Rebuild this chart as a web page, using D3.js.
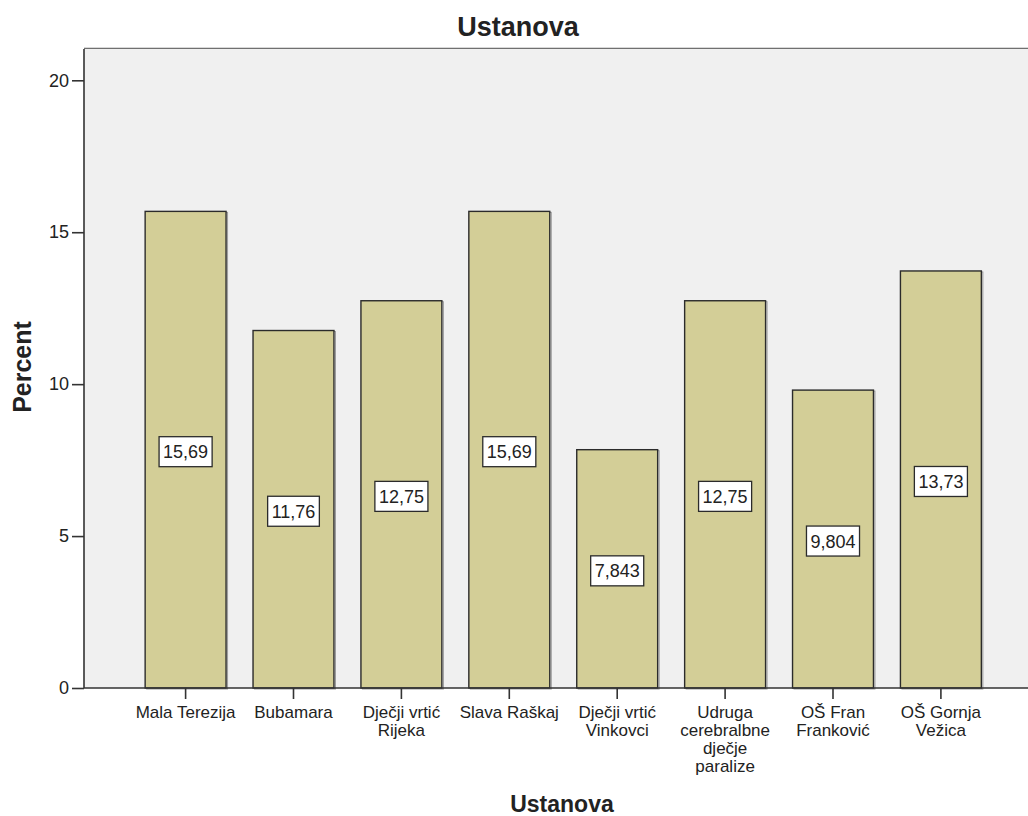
<!DOCTYPE html>
<html>
<head>
<meta charset="utf-8">
<script src="https://cdn.jsdelivr.net/npm/d3@7"></script>
<style>
  html, body { margin: 0; padding: 0; background: #fff; }
  svg { display: block; }
  text { font-family: "Liberation Sans", Arial, sans-serif; fill: #222; }
</style>
</head>
<body>
<svg id="chart" width="1028" height="816"></svg>
<script>
const categories = ["Mala Terezija", "Bubamara", "Dječji vrtić Rijeka", "Slava Raškaj", "Dječji vrtić Vinkovci", "Udruga cerebralbne dječje paralize", "OŠ Fran Franković", "OŠ Gornja Vežica"];
const percents = [15.686, 11.765, 12.745, 15.686, 7.843, 12.745, 9.804, 13.725];
const valueLabels = ["15,69", "11,76", "12,75", "15,69", "7,843", "12,75", "9,804", "13,73"];
const yTicks = [0, 5, 10, 15, 20];
const chartTitle = "Ustanova";
const xTitle = "Ustanova";
const yTitle = "Percent";

const svg = d3.select("#chart");
const plot = { left: 84, top: 49, right: 1030, bottom: 688 };

const y = d3.scaleLinear().domain([0, 21.03]).range([plot.bottom, plot.top]);
const step = 107.9;
const x = d3.scaleBand()
  .domain(categories)
  .range([185.6 - step / 2, 185.6 + step * 7.5])
  .paddingInner(0.25)
  .paddingOuter(0.125);

// plot background
svg.append("rect")
  .attr("x", plot.left).attr("y", plot.top)
  .attr("width", plot.right - plot.left).attr("height", plot.bottom - plot.top)
  .attr("fill", "#f0f0f0");
// top frame
svg.append("line").attr("x1", plot.left).attr("x2", plot.right)
  .attr("y1", plot.top - 1.5).attr("y2", plot.top - 1.5)
  .attr("stroke", "#d8d8d8").attr("stroke-width", 1);
svg.append("line").attr("x1", plot.left).attr("x2", plot.right)
  .attr("y1", plot.top - 0.5).attr("y2", plot.top - 0.5)
  .attr("stroke", "#707070").attr("stroke-width", 1.2);

// bars
const bars = svg.append("g");
bars.selectAll("rect.shadow").data(categories).join("rect")
  .attr("class", "shadow")
  .attr("x", d => x(d) + 1.5)
  .attr("y", (d, i) => y(percents[i]) + 1)
  .attr("width", x.bandwidth())
  .attr("height", (d, i) => y(0) - y(percents[i]))
  .attr("fill", "none").attr("stroke", "#9a9a9a").attr("stroke-width", 1);
bars.selectAll("rect.bar").data(categories).join("rect")
  .attr("class", "bar")
  .attr("x", d => x(d))
  .attr("y", (d, i) => y(percents[i]))
  .attr("width", x.bandwidth())
  .attr("height", (d, i) => y(0) - y(percents[i]))
  .attr("fill", "#d3ce97").attr("stroke", "#2b2b2b").attr("stroke-width", 1.4);

// value labels
const lab = svg.append("g");
categories.forEach((c, i) => {
  const cx = x(c) + x.bandwidth() / 2;
  const cy = y(percents[i] / 2) + 2;
  const g = lab.append("g");
  const t = g.append("text").attr("x", cx).attr("y", cy + 6.5)
    .attr("text-anchor", "middle").attr("font-size", 18).text(valueLabels[i]);
  const w = t.node().getComputedTextLength();
  g.insert("rect", "text")
    .attr("x", cx - w / 2 - 4).attr("y", cy - 15)
    .attr("width", w + 8).attr("height", 30)
    .attr("fill", "#fff").attr("stroke", "#2b2b2b").attr("stroke-width", 1.3);
});

// y axis
const yAxis = svg.append("g").attr("transform", `translate(${plot.left},0)`)
  .call(d3.axisLeft(y).tickValues(yTicks).tickSize(12).tickPadding(3).tickFormat(d3.format("d")));
yAxis.select(".domain").attr("stroke", "#333").attr("stroke-width", 1.6)
  .attr("d", `M0,${plot.top}V${plot.bottom}`);
yAxis.selectAll(".tick line").attr("stroke", "#333").attr("stroke-width", 1.6);
yAxis.selectAll(".tick text").attr("font-size", 18).attr("fill", "#222")
  .attr("font-family", '"Liberation Sans", Arial, sans-serif');

// x axis
const xAxis = svg.append("g").attr("transform", `translate(0,${plot.bottom})`)
  .call(d3.axisBottom(x).tickSize(11).tickPadding(5));
xAxis.select(".domain").attr("stroke", "#333").attr("stroke-width", 1.6)
  .attr("d", `M${plot.left},0H${plot.right}`);
xAxis.selectAll(".tick line").attr("stroke", "#333").attr("stroke-width", 1.6);
xAxis.selectAll(".tick text").attr("font-size", 17).attr("fill", "#222")
  .attr("font-family", '"Liberation Sans", Arial, sans-serif')
  .each(function(d) {
    const t = d3.select(this);
    const words = d.split(" ");
    t.text(null);
    const lines = [];
    let cur = [];
    const probe = t.append("tspan");
    words.forEach(wd => {
      const test = cur.concat([wd]).join(" ");
      probe.text(test);
      if (probe.node().getComputedTextLength() > 108 && cur.length) {
        lines.push(cur.join(" "));
        cur = [wd];
      } else cur.push(wd);
    });
    lines.push(cur.join(" "));
    probe.remove();
    t.attr("y", null).attr("dy", null);
    lines.forEach((ln, k) => {
      t.append("tspan").attr("x", 0).attr("y", 29.7 + k * 18.2).text(ln);
    });
  });

// titles
svg.append("text").attr("x", 518).attr("y", 36).attr("text-anchor", "middle")
  .attr("font-size", 27).attr("font-weight", "bold").text(chartTitle);
svg.append("text").attr("x", 562).attr("y", 812).attr("text-anchor", "middle")
  .attr("font-size", 23).attr("font-weight", "bold").text(xTitle);
svg.append("text").attr("transform", "translate(31,367) rotate(-90)")
  .attr("text-anchor", "middle").attr("font-size", 25).attr("font-weight", "bold").text(yTitle);
</script>
</body>
</html>
